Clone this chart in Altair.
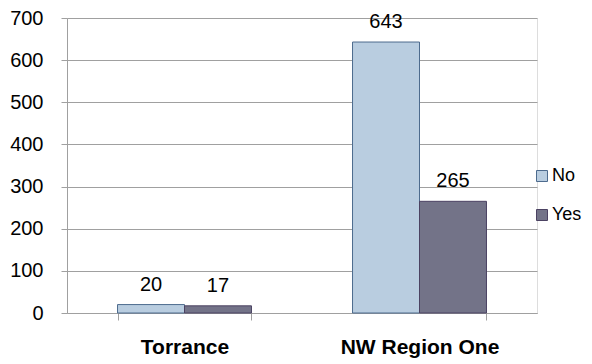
import altair as alt
import pandas as pd

categories = ["Torrance", "NW Region One"]
series = ["No", "Yes"]
no_values = [20, 643]
yes_values = [17, 265]
y_ticks = [0, 100, 200, 300, 400, 500, 600, 700]

rows = []
for i, c in enumerate(categories):
    rows.append({"cat": c, "series": "No", "value": no_values[i]})
    rows.append({"cat": c, "series": "Yes", "value": yes_values[i]})
df = pd.DataFrame(rows)

FONT = "Liberation Sans"
fills = ["#b9cde0", "#737388"]
strokes = ["#4d6b8e", "#4b4262"]

x_enc = alt.X(
    "cat:N",
    sort=categories,
    scale=alt.Scale(paddingInner=0.43, paddingOuter=0.215),
    axis=alt.Axis(
        title=None,
        labelAngle=0,
        labelFont=FONT,
        labelFontSize=21,
        labelFontWeight="bold",
        labelColor="#000000",
        labelPadding=16,
        tickBand="extent",
        tickSize=7,
        tickColor="#a0a0a0",
        domainColor="#a0a0a0",
        grid=False,
    ),
)

base = alt.Chart(df).encode(
    x=x_enc,
    xOffset=alt.XOffset("series:N", sort=series),
)

bars = base.mark_bar(strokeWidth=1).encode(
    y=alt.Y(
        "value:Q",
        scale=alt.Scale(domain=[0, 700], nice=False),
        axis=alt.Axis(
            title=None,
            values=y_ticks,
            labelFont=FONT,
            labelFontSize=20,
            labelColor="#000000",
            labelPadding=18,
            tickSize=6,
            tickColor="#a0a0a0",
            domainColor="#a0a0a0",
            gridColor="#a0a0a0",
            gridWidth=1,
        ),
    ),
    color=alt.Color(
        "series:N",
        sort=series,
        scale=alt.Scale(domain=series, range=fills),
        legend=alt.Legend(
            title=None,
            orient="none",
            legendX=466,
            legendY=149,
            padding=0,
            symbolType="square",
            symbolSize=121,
            symbolStrokeWidth=1,
            symbolStrokeColor="#4d5a70",
            labelFont=FONT,
            labelFontSize=18,
            labelColor="#000000",
            rowPadding=21,
            labelOffset=1,
        ),
    ),
    stroke=alt.Stroke(
        "series:N",
        sort=series,
        scale=alt.Scale(domain=series, range=strokes),
        legend=None,
    ),
)

labels = base.mark_text(
    font=FONT, fontSize=20, color="#000000", baseline="alphabetic", dy=-14
).encode(
    y=alt.Y("value:Q"),
    text=alt.Text("value:Q"),
)

chart = (
    alt.layer(bars, labels)
    .properties(
        width=470,
        height=295,
        autosize=alt.AutoSizeParams(type="none"),
        padding={"left": 59, "top": 10, "right": 47, "bottom": 45},
    )
    .configure_view(stroke=None)
    .configure(background="#ffffff")
)

chart.save("out.html", embed_options={"renderer": "svg", "actions": False})
